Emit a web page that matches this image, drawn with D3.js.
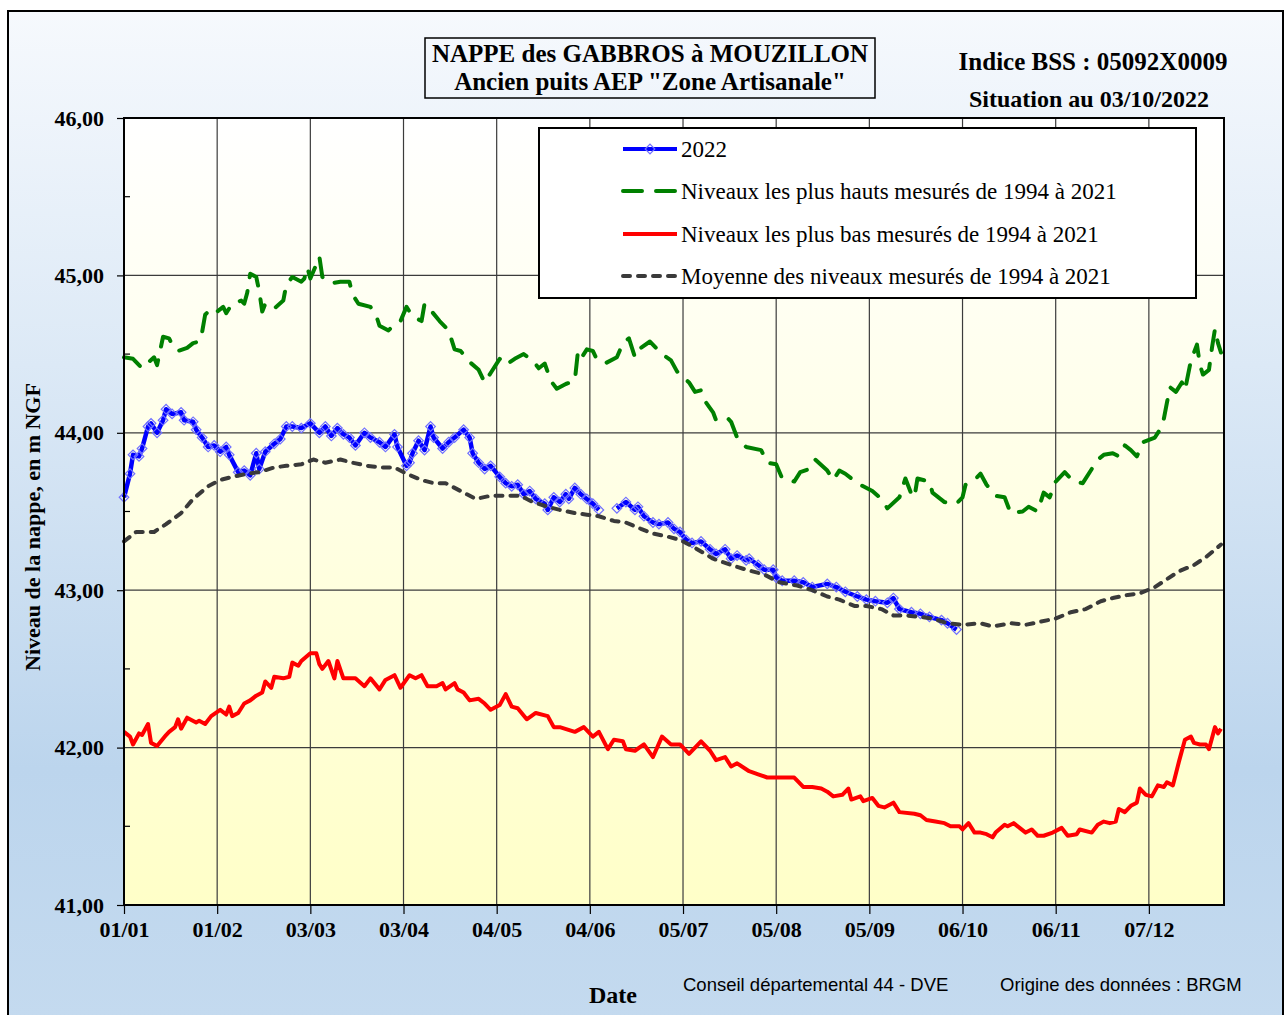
<!DOCTYPE html>
<html>
<head>
<meta charset="utf-8">
<script src="https://cdn.jsdelivr.net/npm/d3@7"></script>
<style>
  body { margin: 0; background: #fff; }
  svg { display: block; }
</style>
</head>
<body>
<div id="chart"></div>
<script>
// jours comptes depuis le 01/01 (annee de reference bissextile), niveaux en m NGF
const jours2022 = [0,2,3,5,6,8,9,11,13,14,16,19,20,23,24,26,28,30,32,34,35,38,40,42,44,45,47,50,52,54,56,59,62,65,67,69,71,73,75,77,80,82,85,87,90,91,94,95,96,98,100,102,103,106,108,110,113,115,116,118,120,122,125,127,129,131,133,135,137,140,141,143,145,147,148,150,152,154,156,158,161,164,167,170,171,173,176,178,181,183,185,187,189,192,195,197,200,202,204,207,208,211,213,216,217,219,223,226,229,234,237,240,244,247,250,254,256,258,262,265,268,272,274,277];
const niveaux2022 = [43.59,43.74,43.86,43.85,43.90,44.04,44.06,44.00,44.08,44.15,44.12,44.13,44.08,44.07,44.02,43.97,43.91,43.92,43.88,43.91,43.86,43.75,43.76,43.73,43.87,43.77,43.88,43.93,43.96,44.04,44.04,44.03,44.06,44.00,44.04,43.98,44.03,43.99,43.97,43.92,44.00,43.97,43.94,43.91,43.99,43.91,43.79,43.81,43.87,43.95,43.89,44.04,43.97,43.90,43.94,43.97,44.02,43.97,43.87,43.81,43.77,43.79,43.72,43.68,43.66,43.67,43.61,43.63,43.58,43.55,43.51,43.59,43.56,43.61,43.58,43.65,43.61,43.58,43.55,43.51,null,43.52,43.56,43.51,43.53,43.47,43.43,43.42,43.43,43.39,43.37,43.32,43.30,43.31,43.26,43.23,43.26,43.20,43.22,43.19,43.20,43.16,43.13,43.13,43.08,43.06,43.06,43.05,43.02,43.04,43.02,42.99,42.96,42.94,42.93,42.92,42.95,42.88,42.86,42.85,42.83,42.81,42.79,42.75];

const joursHaut = [0,3,6,10,11,13,15,16,18,21,23,25,26,27,29,31,33,34,36,39,40,41,42,44,45,46,47,50,53,54,56,59,60,61,62,64,65,66,69,72,75,76,78,82,84,85,88,90,92,94,96,99,100,102,105,108,110,112,115,118,120,122,125,127,130,133,136,138,140,142,144,147,150,151,152,154,156,157,160,164,166,168,170,172,175,179,182,184,188,190,192,193,196,197,201,202,204,207,212,214,217,219,223,225,228,230,234,236,238,240,244,249,252,254,258,260,262,263,264,268,269,273,277,279,280,283,285,287,290,293,295,299,301,304,306,308,310,313,316,319,322,324,326,329,331,333,335,337,339,343,345,346,347,348,350,352,353,355,357,358,359,361,362,363,364,365];
const niveauxHaut = [44.48,44.47,44.41,44.48,44.43,44.61,44.60,44.56,44.52,44.54,44.57,44.58,44.64,44.75,44.79,44.77,44.80,44.76,44.82,44.84,44.82,44.89,45.01,44.99,44.90,44.77,44.82,44.79,44.84,44.94,44.99,44.96,44.98,45.05,44.98,45.07,45.12,44.99,44.95,44.96,44.96,44.88,44.82,44.80,44.74,44.68,44.65,44.69,44.71,44.80,44.74,44.71,44.82,44.78,44.71,44.65,44.53,44.52,44.45,44.40,44.32,44.38,44.47,44.43,44.47,44.50,44.46,44.41,44.44,44.33,44.28,44.31,44.33,44.51,44.47,44.53,44.52,44.48,44.44,44.48,44.57,44.60,44.48,44.54,44.58,44.50,44.46,44.39,44.32,44.26,44.27,44.21,44.13,44.08,44.09,44.07,43.97,43.91,43.89,43.81,43.80,43.71,43.69,43.75,43.77,43.83,43.76,43.70,43.76,43.74,43.68,43.63,43.58,43.52,43.59,43.71,43.61,43.59,43.71,43.69,43.62,43.56,43.55,43.59,43.67,43.70,43.74,43.67,43.60,43.59,43.49,43.50,43.53,43.50,43.62,43.59,43.69,43.75,43.69,43.68,43.77,43.83,43.86,43.87,43.85,43.92,43.89,43.85,43.94,43.97,44.03,44.09,44.19,44.29,44.26,44.32,44.27,44.46,44.56,44.43,44.37,44.40,44.54,44.66,44.57,44.51];

const joursBas = [0,2,3,5,6,8,9,11,14,15,17,18,19,21,24,25,27,29,32,34,35,36,38,40,42,44,46,47,49,50,53,55,56,58,59,62,64,65,66,68,70,71,73,75,77,80,82,85,87,90,92,95,97,99,101,104,106,107,110,111,113,115,118,120,122,125,127,129,131,134,137,141,143,145,150,153,156,158,161,163,166,167,170,173,176,179,182,185,188,192,195,197,200,202,204,208,211,214,217,221,223,224,226,229,232,234,236,239,241,242,245,246,249,251,253,256,258,263,265,267,270,273,275,278,279,281,283,285,287,289,290,293,294,296,298,300,302,304,306,309,312,314,317,318,322,324,326,328,330,331,333,335,337,338,340,342,344,346,347,349,351,353,355,356,358,360,361,363,364,365];
const niveauxBas = [42.10,42.07,42.02,42.09,42.08,42.15,42.03,42.01,42.08,42.10,42.13,42.18,42.12,42.19,42.16,42.17,42.15,42.20,42.24,42.21,42.26,42.20,42.22,42.28,42.30,42.33,42.35,42.42,42.38,42.45,42.44,42.45,42.54,42.52,42.55,42.60,42.60,42.53,42.50,42.55,42.44,42.55,42.44,42.44,42.44,42.39,42.44,42.37,42.43,42.46,42.38,42.46,42.44,42.46,42.39,42.39,42.41,42.37,42.41,42.37,42.35,42.30,42.31,42.28,42.24,42.27,42.34,42.26,42.25,42.18,42.22,42.20,42.13,42.13,42.10,42.13,42.07,42.10,41.99,42.05,42.04,41.99,41.98,42.02,41.94,42.07,42.02,42.02,41.96,42.04,41.98,41.92,41.94,41.88,41.90,41.85,41.83,41.81,41.81,41.81,41.81,41.79,41.75,41.75,41.74,41.72,41.69,41.70,41.74,41.67,41.69,41.66,41.68,41.63,41.62,41.65,41.59,41.58,41.57,41.54,41.53,41.52,41.50,41.50,41.48,41.52,41.46,41.46,41.45,41.43,41.46,41.51,41.50,41.52,41.49,41.46,41.48,41.44,41.44,41.46,41.49,41.44,41.45,41.48,41.46,41.51,41.53,41.52,41.53,41.61,41.59,41.63,41.65,41.74,41.70,41.69,41.76,41.75,41.78,41.76,41.91,42.05,42.07,42.03,42.02,42.02,41.99,42.13,42.09,42.12];

const joursMoy = [0,4,10,14,19,23,28,32,36,41,45,50,54,59,63,67,72,76,81,85,90,94,99,103,107,112,117,122,127,132,136,141,145,150,154,158,163,167,172,176,181,185,189,196,202,207,213,218,224,229,234,238,243,247,252,256,260,265,269,274,279,285,289,295,300,305,310,315,320,325,329,334,338,343,347,351,356,360,365];
const niveauxMoy = [43.31,43.37,43.37,43.42,43.49,43.58,43.66,43.70,43.72,43.74,43.75,43.78,43.79,43.80,43.83,43.81,43.83,43.81,43.79,43.78,43.78,43.74,43.70,43.68,43.68,43.63,43.58,43.60,43.60,43.60,43.56,43.53,43.51,43.49,43.48,43.47,43.44,43.43,43.39,43.36,43.34,43.32,43.28,43.20,43.16,43.13,43.10,43.05,43.03,43.00,42.96,42.94,42.90,42.90,42.88,42.84,42.84,42.83,42.82,42.79,42.78,42.79,42.77,42.79,42.78,42.80,42.82,42.86,42.88,42.93,42.95,42.97,42.98,43.02,43.07,43.12,43.16,43.21,43.29];

// axes
const tickJours = [0,31,62,93,124,155,186,217,248,279,310,341];
const tickLabels = ["01/01","01/02","03/03","03/04","04/05","04/06","05/07","05/08","05/09","06/10","06/11","07/12"];
const niveauxTicks = [41,42,43,44,45,46];
const niveauxMineurs = [41.5,42.5,43.5,44.5,45.5];

const legendLabels = ["2022",
  "Niveaux les plus hauts mesurés de 1994 à 2021",
  "Niveaux les plus bas mesurés de 1994 à 2021",
  "Moyenne des niveaux mesurés de 1994 à 2021"];

const width = 1288, height = 1015;
const serif = "'Liberation Serif', 'Times New Roman', serif";
const sans = "'Liberation Sans', Arial, sans-serif";

const debut = new Date(2000, 0, 1);
const toDate = j => d3.timeDay.offset(debut, j);

const x = d3.scaleTime().domain([debut, new Date(2001, 0, 1)]).range([124, 1224]);
const y = d3.scaleLinear().domain([41, 46]).range([905, 118]);

const svg = d3.select("#chart").append("svg")
  .attr("width", width).attr("height", height);

const defs = svg.append("defs");
const bg = defs.append("linearGradient").attr("id", "bg")
  .attr("x1", 0).attr("y1", 0).attr("x2", 0).attr("y2", 1);
bg.append("stop").attr("offset", "0%").attr("stop-color", "#f6f9fd");
bg.append("stop").attr("offset", "35%").attr("stop-color", "#dce9f6");
bg.append("stop").attr("offset", "75%").attr("stop-color", "#bcd5ed");
bg.append("stop").attr("offset", "100%").attr("stop-color", "#c4daef");

const plotBg = defs.append("linearGradient").attr("id", "plotbg")
  .attr("x1", 0).attr("y1", 0).attr("x2", 0).attr("y2", 1);
plotBg.append("stop").attr("offset", "0%").attr("stop-color", "#ffffff");
plotBg.append("stop").attr("offset", "100%").attr("stop-color", "#ffffc8");

// cadre general
svg.append("rect")
  .attr("x", 8).attr("y", 11).attr("width", 1275).attr("height", 1010)
  .attr("fill", "url(#bg)").attr("stroke", "#000").attr("stroke-width", 2);

// zone de tracé
svg.append("rect")
  .attr("x", x.range()[0]).attr("y", y(46))
  .attr("width", x.range()[1] - x.range()[0]).attr("height", y(41) - y(46))
  .attr("fill", "url(#plotbg)");

// grille
svg.append("g").selectAll("line")
  .data(niveauxTicks.slice(1, -1))
  .join("line")
  .attr("x1", x.range()[0]).attr("x2", x.range()[1])
  .attr("y1", d => y(d)).attr("y2", d => y(d))
  .attr("stroke", "#3c3c3c").attr("stroke-width", 1.2);

svg.append("g").selectAll("line")
  .data(tickJours.slice(1))
  .join("line")
  .attr("x1", d => x(toDate(d))).attr("x2", d => x(toDate(d)))
  .attr("y1", y(46)).attr("y2", y(41))
  .attr("stroke", "#3c3c3c").attr("stroke-width", 1.2);

// series
const serie = (jours, niveaux) => jours.map((j, i) => ({ date: toDate(j), v: niveaux[i] }));
const data2022 = serie(jours2022, niveaux2022);
const dataHaut = serie(joursHaut, niveauxHaut);
const dataBas = serie(joursBas, niveauxBas);
const dataMoy = serie(joursMoy, niveauxMoy);

const line = d3.line()
  .defined(d => d.v != null)
  .x(d => x(d.date))
  .y(d => y(d.v));

const diamond = d3.symbol(d3.symbolSquare, 46);

// 2022
svg.append("path").datum(data2022)
  .attr("d", line)
  .attr("fill", "none").attr("stroke", "#0000ff").attr("stroke-width", 4.5)
  .attr("stroke-linejoin", "round");
svg.append("g").selectAll("path")
  .data(data2022.filter(d => d.v != null))
  .join("path")
  .attr("d", diamond)
  .attr("transform", d => `translate(${x(d.date)},${y(d.v)}) rotate(45)`)
  .attr("fill", "none").attr("stroke", "#7070ff").attr("stroke-width", 1.2);

// plus hauts
svg.append("path").datum(dataHaut)
  .attr("d", line)
  .attr("fill", "none").attr("stroke", "#008000").attr("stroke-width", 4)
  .attr("stroke-linejoin", "round").attr("stroke-linecap", "round")
  .attr("stroke-dasharray", "19,14");

// plus bas
svg.append("path").datum(dataBas)
  .attr("d", line)
  .attr("fill", "none").attr("stroke", "#ff0000").attr("stroke-width", 4)
  .attr("stroke-linejoin", "round");

// moyenne
svg.append("path").datum(dataMoy)
  .attr("d", line)
  .attr("fill", "none").attr("stroke", "#3a3a3a").attr("stroke-width", 4)
  .attr("stroke-linejoin", "round").attr("stroke-linecap", "round")
  .attr("stroke-dasharray", "7,8");

// bordure de la zone de tracé
svg.append("rect")
  .attr("x", x.range()[0]).attr("y", y(46))
  .attr("width", x.range()[1] - x.range()[0]).attr("height", y(41) - y(46))
  .attr("fill", "none").attr("stroke", "#000").attr("stroke-width", 2);

// axe X
const xAxis = svg.append("g")
  .attr("transform", `translate(0,${y(41)})`)
  .call(d3.axisBottom(x)
    .tickValues(tickJours.map(toDate))
    .tickFormat((d, i) => tickLabels[i])
    .tickSize(9).tickPadding(7).tickSizeOuter(0));
xAxis.select(".domain").remove();
xAxis.selectAll("line").attr("stroke", "#000").attr("stroke-width", 1.2);
xAxis.selectAll("text")
  .attr("font-family", serif).attr("font-weight", "bold")
  .attr("font-size", 22).attr("fill", "#000");

// axe Y
const yAxis = svg.append("g")
  .attr("transform", `translate(${x.range()[0]},0)`)
  .call(d3.axisLeft(y)
    .tickValues(niveauxTicks)
    .tickFormat(d => d.toFixed(2).replace(".", ","))
    .tickSize(7).tickPadding(13).tickSizeOuter(0));
yAxis.select(".domain").remove();
yAxis.selectAll("line").attr("stroke", "#000").attr("stroke-width", 1.2);
yAxis.selectAll("text")
  .attr("font-family", serif).attr("font-weight", "bold")
  .attr("font-size", 22).attr("fill", "#000");

svg.append("g").selectAll("line")
  .data(niveauxMineurs)
  .join("line")
  .attr("x1", x.range()[0]).attr("x2", x.range()[0] + 6)
  .attr("y1", d => y(d)).attr("y2", d => y(d))
  .attr("stroke", "#000").attr("stroke-width", 1.2);

// titres d'axes
svg.append("text")
  .attr("transform", "translate(40,527) rotate(-90)")
  .attr("text-anchor", "middle")
  .attr("font-family", serif).attr("font-weight", "bold").attr("font-size", 22)
  .text("Niveau de la nappe, en m NGF");

svg.append("text")
  .attr("x", 613).attr("y", 1003)
  .attr("text-anchor", "middle")
  .attr("font-family", serif).attr("font-weight", "bold").attr("font-size", 24)
  .text("Date");

// titre
svg.append("rect")
  .attr("x", 425).attr("y", 38).attr("width", 450).attr("height", 60)
  .attr("fill", "none").attr("stroke", "#000").attr("stroke-width", 1.5);
svg.append("text")
  .attr("x", 650).attr("y", 62).attr("text-anchor", "middle")
  .attr("font-family", serif).attr("font-weight", "bold").attr("font-size", 25)
  .text("NAPPE des GABBROS à MOUZILLON");
svg.append("text")
  .attr("x", 650).attr("y", 90).attr("text-anchor", "middle")
  .attr("font-family", serif).attr("font-weight", "bold").attr("font-size", 25)
  .text("Ancien puits AEP \"Zone Artisanale\"");

svg.append("text")
  .attr("x", 1093).attr("y", 70).attr("text-anchor", "middle")
  .attr("font-family", serif).attr("font-weight", "bold").attr("font-size", 25)
  .text("Indice BSS : 05092X0009");
svg.append("text")
  .attr("x", 1089).attr("y", 107).attr("text-anchor", "middle")
  .attr("font-family", serif).attr("font-weight", "bold").attr("font-size", 24)
  .text("Situation au 03/10/2022");

// pied
svg.append("text")
  .attr("x", 683).attr("y", 991)
  .attr("font-family", sans).attr("font-size", 18.5)
  .text("Conseil départemental 44 - DVE");
svg.append("text")
  .attr("x", 1000).attr("y", 991)
  .attr("font-family", sans).attr("font-size", 18.5)
  .text("Origine des données : BRGM");

// legende
const legend = svg.append("g");
legend.append("rect")
  .attr("x", 539).attr("y", 128).attr("width", 657).attr("height", 170)
  .attr("fill", "#fff").attr("stroke", "#000").attr("stroke-width", 2);

const rowsY = [149, 191, 234, 276];
const legendStyles = [
  { color: "#0000ff", dash: null, cap: "butt" },
  { color: "#008000", dash: "19,14", cap: "round" },
  { color: "#ff0000", dash: null, cap: "butt" },
  { color: "#3a3a3a", dash: "7,8", cap: "round" }
];

legendLabels.forEach((lab, i) => {
  const st = legendStyles[i];
  legend.append("line")
    .attr("x1", 623).attr("x2", 677)
    .attr("y1", rowsY[i]).attr("y2", rowsY[i])
    .attr("stroke", st.color).attr("stroke-width", 4)
    .attr("stroke-linecap", st.cap)
    .attr("stroke-dasharray", st.dash);
  legend.append("text")
    .attr("x", 681).attr("y", rowsY[i]).attr("dy", "0.34em")
    .attr("font-family", serif).attr("font-size", 23)
    .text(lab);
});
legend.append("path")
  .attr("d", diamond)
  .attr("transform", `translate(650,${rowsY[0]}) rotate(45)`)
  .attr("fill", "none").attr("stroke", "#7070ff").attr("stroke-width", 1.2);
</script>
</body>
</html>
